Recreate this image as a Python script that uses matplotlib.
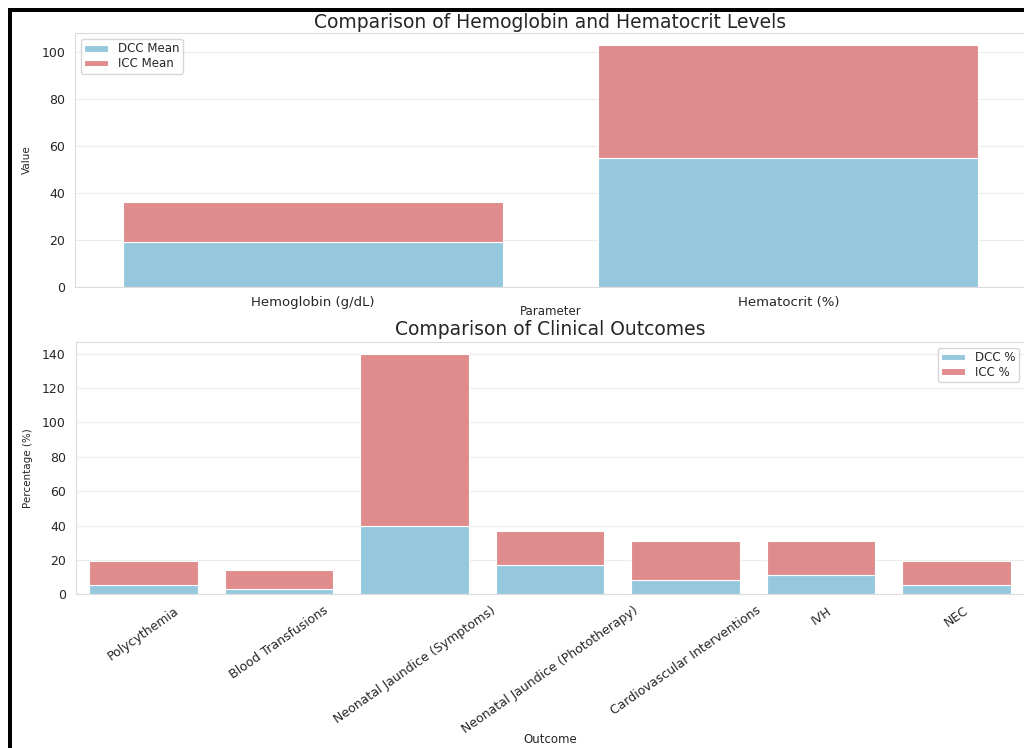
import matplotlib
matplotlib.use("Agg")
import matplotlib.pyplot as plt
import seaborn as sns
from matplotlib.patches import Rectangle
import numpy as np

# ---- data ----
params = ["Hemoglobin (g/dL)", "Hematocrit (%)"]
dcc_mean = [19.2, 55.0]
icc_mean = [16.7, 47.9]

outcomes = ["Polycythemia", "Blood Transfusions", "Neonatal Jaundice (Symptoms)",
            "Neonatal Jaundice (Phototherapy)", "Cardiovascular Interventions", "IVH", "NEC"]
dcc_pct = [5.4, 2.9, 40.0, 16.9, 8.3, 11.3, 5.4]
icc_pct = [14.2, 11.1, 100.0, 19.9, 22.8, 19.8, 14.2]

dcc_color = "#96c8dd"
icc_color = "#e08b8c"

sns.set_style("whitegrid")
plt.rcParams['font.family'] = ['DejaVu Sans']
plt.rcParams['axes.edgecolor'] = '#dcdcdc'
plt.rcParams['grid.color'] = '#ececec'

fig = plt.figure(figsize=(10.24, 7.48), dpi=100)

ax1 = fig.add_axes([75/1024, 1-286.7/748, 951/1024, 253.7/748])
ax2 = fig.add_axes([75.5/1024, 1-594.3/748, 949/1024, 252.6/748])

txt = '#262626'

# top chart
x1 = np.arange(len(params))
ax1.bar(x1, dcc_mean, width=0.8, color=dcc_color, edgecolor='white', linewidth=0.8, label='DCC Mean')
ax1.bar(x1, icc_mean, width=0.8, bottom=dcc_mean, color=icc_color, edgecolor='white', linewidth=0.8, label='ICC Mean')
ax1.set_xlim(-0.5, len(params) - 0.5)
ax1.set_xticks(x1)
ax1.set_xticklabels(params, fontsize=9.5)
ax1.xaxis.grid(False)
ax1.set_title("Comparison of Hemoglobin and Hematocrit Levels", fontsize=13.5, color=txt, pad=3.5)
ax1.set_ylabel("Value", fontsize=7.5, color=txt)
ax1.set_xlabel("Parameter", fontsize=8.5, color=txt)
ax1.xaxis.set_label_coords(0.5, -0.072)
ax1.tick_params(axis='both', colors=txt)
ax1.tick_params(axis='y', labelsize=9)
ax1.legend(loc='upper left', fontsize=8.5, labelspacing=0.15, borderpad=0.3,
           handleheight=0.5, frameon=True)

# bottom chart
x2 = np.arange(len(outcomes))
ax2.bar(x2, dcc_pct, width=0.8, color=dcc_color, edgecolor='white', linewidth=0.8, label='DCC %')
ax2.bar(x2, icc_pct, width=0.8, bottom=dcc_pct, color=icc_color, edgecolor='white', linewidth=0.8, label='ICC %')
ax2.set_xlim(-0.5, len(outcomes) - 0.5)
ax2.set_xticks(x2)
ax2.set_xticklabels(outcomes, rotation=35, ha='center', fontsize=9)
ax2.xaxis.grid(False)
ax2.set_title("Comparison of Clinical Outcomes", fontsize=13.5, color=txt, pad=5)
ax2.set_ylabel("Percentage (%)", fontsize=7.5, color=txt)
ax2.set_xlabel("Outcome", fontsize=8.5, color=txt)
ax2.xaxis.set_label_coords(0.5, -0.549)
ax2.tick_params(axis='both', colors=txt)
ax2.tick_params(axis='y', labelsize=9)
ax2.legend(loc='upper right', fontsize=8.5, labelspacing=0.15, borderpad=0.3,
           handleheight=0.5, frameon=True)

for ax in (ax1, ax2):
    ax.yaxis.set_label_coords(-0.045, 0.5)

# black frame fragments (screenshot border)
fig.patches.append(Rectangle((8/1024, 0), 4/1024, 740/748, transform=fig.transFigure,
                             facecolor='black', edgecolor='none', zorder=10))
fig.patches.append(Rectangle((8/1024, 1-12/748), 1016/1024, 4/748, transform=fig.transFigure,
                             facecolor='black', edgecolor='none', zorder=10))

fig.savefig("out.png", dpi=100)
